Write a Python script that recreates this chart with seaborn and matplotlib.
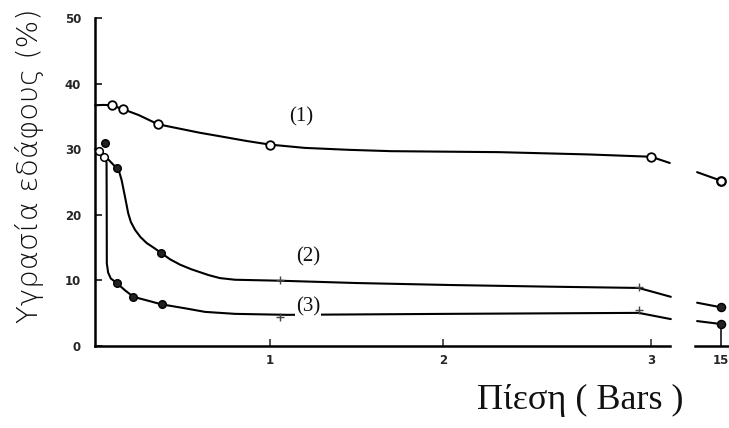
import numpy as np
import pandas as pd
import matplotlib
matplotlib.use("Agg")
import matplotlib.pyplot as plt
import seaborn as sns

# ---- data: soil moisture (%) versus pressure (bar) ----
# traced curve outlines (pressure, moisture)
c1_line_p = [0.0, 0.05, 0.095, 0.16, 0.25, 0.36, 0.6, 0.676, 0.867, 1.0, 1.2, 1.46, 1.7,
             2.27, 2.7, 3.0, 3.09]
c1_line_v = [36.7, 36.75, 36.7, 36.1, 35.2, 33.8, 32.5, 32.15, 31.25, 30.7, 30.2, 29.9, 29.7,
             29.55, 29.2, 28.85, 27.9]
c2_line_p = [0.0, 0.03, 0.07, 0.124, 0.14, 0.152, 0.171, 0.19, 0.205, 0.229, 0.26, 0.295, 0.34,
             0.377, 0.43, 0.486, 0.55, 0.6, 0.65, 0.714, 0.8, 1.06, 1.5, 2.03, 2.5, 2.94, 3.095]
c2_line_v = [30.0, 29.5, 28.6, 27.1, 26.4, 25.3, 22.8, 20.2, 18.9, 17.7, 16.6, 15.7, 14.9,
             14.2, 13.2, 12.4, 11.7, 11.25, 10.8, 10.35, 10.1, 9.95, 9.6, 9.3, 9.05, 8.85, 7.5]
c3_line_p = [0.03, 0.066, 0.067, 0.0675, 0.075, 0.09, 0.124, 0.171, 0.219, 0.304, 0.38,
             0.514, 0.629, 0.8, 1.1, 2.03, 2.94, 3.095]
c3_line_v = [29.5, 28.0, 20.0, 12.6, 11.2, 10.3, 9.6, 8.5, 7.5, 6.9, 6.35,
             5.75, 5.2, 4.9, 4.75, 4.9, 5.05, 4.1]

# measured points
c1_pts_p = [0.095, 0.16, 0.36, 1.0, 3.0]
c1_pts_v = [36.7, 36.1, 33.8, 30.7, 28.85]
c2_pts_p = [0.057, 0.124, 0.377]
c2_pts_v = [31.0, 27.1, 14.2]
c2_cross_p = [1.06, 2.94]
c2_cross_v = [10.1, 9.0]
c3_pts_p = [0.124, 0.219, 0.38]
c3_pts_v = [9.6, 7.5, 6.45]
c3_cross_p = [1.06, 2.94]
c3_cross_v = [4.4, 5.5]
sat_pts_p = [0.02, 0.05]
sat_pts_v = [29.8, 28.8]

# values at 15 bar (broken axis)
p15_seg = [14.2, 15.0]
c1_15 = [26.5, 25.2]
c2_15 = [6.6, 5.9]
c3_15 = [3.8, 3.35]

curve_labels = ["(1)", "(2)", "(3)"]
label_p = [1.18, 1.22, 1.22]
label_v = [35.0, 13.6, 6.0]

y_ticks = [0, 10, 20, 30, 40, 50]
x_ticks = [1, 2, 3]

# ---- style ----
sns.set_theme(style="white")
plt.rcParams["font.family"] = ["DejaVu Sans"]

W, H = 729, 428
fig = plt.figure(figsize=(W / 100, H / 100), dpi=100)

# hand-drawn pressure axis: uneven spacing between 0..3 bar
knot_p = np.array([-1.0, 0.0, 1.0, 2.0, 3.0, 4.0])
knot_x = np.array([-175.0, 0.0, 175.0, 348.0, 556.0, 764.0])


def fwd(v):
    return np.interp(v, knot_p, knot_x)


def inv(v):
    return np.interp(v, knot_x, knot_p)


ax = fig.add_axes([95 / W, 82 / H, (670 - 95) / W, (346 - 18) / H])
ax.set_xscale("function", functions=(fwd, inv))
ax.set_xlim(0, 3.091)
ax.set_ylim(0, 50)

lw = 1.5
for lp, lv in [(c1_line_p, c1_line_v), (c2_line_p, c2_line_v), (c3_line_p, c3_line_v)]:
    df = pd.DataFrame({"p": lp, "v": lv})
    sns.lineplot(data=df, x="p", y="v", ax=ax, color="black", lw=lw,
                 sort=False, estimator=None, clip_on=False,
                 solid_joinstyle="round", solid_capstyle="round")

sns.scatterplot(x=c1_pts_p, y=c1_pts_v, ax=ax, marker="o", s=38,
                facecolor="white", edgecolor="black", linewidth=1.3, zorder=5)
sns.scatterplot(x=sat_pts_p, y=sat_pts_v, ax=ax, marker="o", s=30,
                facecolor="white", edgecolor="black", linewidth=1.1, zorder=5, clip_on=False)
sns.scatterplot(x=c2_pts_p + c3_pts_p, y=c2_pts_v + c3_pts_v, ax=ax, marker="o", s=30,
                color="#222222", edgecolor="black", linewidth=1.0, zorder=5, clip_on=False)
sns.scatterplot(x=c2_cross_p + c3_cross_p, y=c2_cross_v + c3_cross_v, ax=ax,
                marker="+", s=30, color="#444444", linewidth=1.0, zorder=5)

for t, p, v in zip(curve_labels, label_p, label_v):
    ax.text(p, v, t, ha="center", va="center", fontsize=15,
            family="Liberation Serif", color="#111111",
            bbox=dict(boxstyle="square,pad=0.05", fc="white", ec="none"), zorder=6)

for side in ["top", "right"]:
    ax.spines[side].set_visible(False)
for side in ["left", "bottom"]:
    ax.spines[side].set_linewidth(1.8)
    ax.spines[side].set_color("black")

ax.set_yticks(y_ticks)
ax.set_yticklabels([str(t) for t in y_ticks])
ax.set_xticks(x_ticks)
ax.set_xticklabels([str(t) for t in x_ticks])
ax.tick_params(axis="y", direction="in", length=5, width=1.3, pad=10,
               labelsize=8.5, left=True)
ax.tick_params(axis="x", direction="in", length=5, width=1.1, pad=6,
               labelsize=8.5, bottom=True)
for lab in ax.get_xticklabels() + ax.get_yticklabels():
    lab.set_fontweight("bold")
ax.set_xlabel("")
ax.set_ylabel("")
ax.patch.set_alpha(0)

# broken-axis panel for 15 bar
ax2 = fig.add_axes([695 / W, 82 / H, 34 / W, (346 - 18) / H])
ax2.set_xlim(14.13, 15.27)
ax2.set_ylim(0, 50)
for seg_v in [c1_15, c2_15, c3_15]:
    sns.lineplot(x=p15_seg, y=seg_v, ax=ax2, color="black", lw=lw,
                 estimator=None, clip_on=False)
sns.scatterplot(x=[15.0], y=[c1_15[1]], ax=ax2, marker="o", s=38,
                facecolor="white", edgecolor="black", linewidth=1.6, zorder=5, clip_on=False)
sns.scatterplot(x=[15.0, 15.0], y=[c2_15[1], c3_15[1]], ax=ax2, marker="o", s=34,
                color="#222222", edgecolor="black", linewidth=1.0, zorder=5, clip_on=False)
for side in ["top", "right", "left"]:
    ax2.spines[side].set_visible(False)
ax2.spines["bottom"].set_linewidth(1.8)
ax2.spines["bottom"].set_color("black")
ax2.set_yticks([])
ax2.set_xticks([15])
ax2.set_xticklabels(["15"])
ax2.tick_params(axis="x", direction="in", length=16, width=1.3, pad=6,
                labelsize=8.5, bottom=True)
for lab in ax2.get_xticklabels():
    lab.set_fontweight("bold")
ax2.set_xlabel("")
ax2.set_ylabel("")
ax2.patch.set_alpha(0)

# axis titles
fig.text(30 / W, 1 - 166 / H, "Υγρασία εδάφους (%)", rotation=90,
         ha="center", va="center", fontsize=21, family="DejaVu Sans",
         fontweight="light", color="#111111")
fig.text(580 / W, 1 - 400 / H, "Πίεση ( Bars )", ha="center", va="center",
         fontsize=26, family="Liberation Serif", color="#111111")

fig.savefig("out.png", dpi=100, facecolor="white")
